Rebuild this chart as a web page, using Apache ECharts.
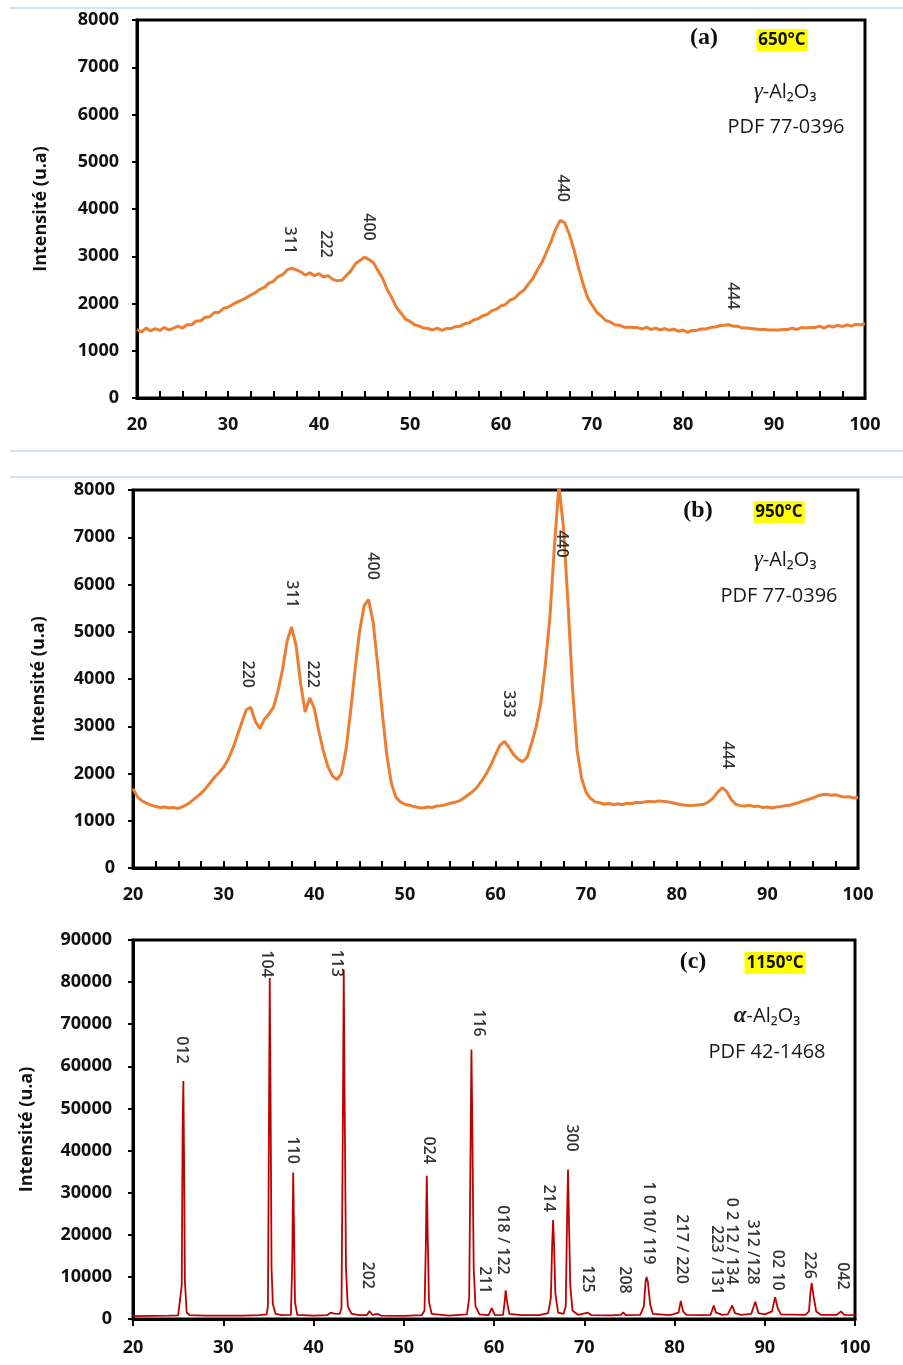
<!DOCTYPE html>
<html><head><meta charset="utf-8">
<script src="https://cdn.jsdelivr.net/npm/echarts@6/dist/echarts.min.js"></script>
<style>html,body{margin:0;padding:0;background:#fff}#c{width:903px;height:1365px}</style>
</head><body><div id="c"></div><script>
// ---------- DATA ----------
const anglesAB = [20,20.5,21,21.5,22,22.5,23,23.5,24,24.5,25,25.5,26,26.5,27,27.5,28,28.5,29,29.5,
30,30.5,31,31.5,32,32.5,33,33.5,34,34.5,35,35.5,36,36.5,37,37.5,38,38.5,39,39.5,
40,40.5,41,41.5,42,42.5,43,43.5,44,44.5,45,45.5,46,46.5,47,47.5,48,48.5,49,49.5,
50,50.5,51,51.5,52,52.5,53,53.5,54,54.5,55,55.5,56,56.5,57,57.5,58,58.5,59,59.5,
60,60.5,61,61.5,62,62.5,63,63.5,64,64.5,65,65.5,66,66.5,67,67.5,68,68.5,69,69.5,
70,70.5,71,71.5,72,72.5,73,73.5,74,74.5,75,75.5,76,76.5,77,77.5,78,78.5,79,79.5,
80,80.5,81,81.5,82,82.5,83,83.5,84,84.5,85,85.5,86,86.5,87,87.5,88,88.5,89,89.5,
90,90.5,91,91.5,92,92.5,93,93.5,94,94.5,95,95.5,96,96.5,97,97.5,98,98.5,99,99.5,100];

// (a) 650°C
const intensA = [1450,1400,1480,1420,1470,1430,1490,1440,1480,1520,1480,1550,1550,1630,1630,1710,1720,1810,1810,1900,
1920,1980,2030,2070,2120,2180,2230,2300,2340,2430,2470,2570,2610,2710,2750,2710,2670,2600,2650,2590,
2630,2560,2590,2510,2480,2490,2590,2690,2840,2910,2980,2930,2860,2690,2530,2290,2120,1920,1800,1670,
1620,1550,1520,1480,1470,1440,1480,1430,1470,1470,1510,1520,1570,1590,1650,1680,1740,1770,1850,1880,
1950,1980,2070,2110,2210,2280,2410,2530,2710,2870,3090,3310,3570,3760,3710,3470,3150,2770,2430,2130,
1970,1820,1740,1640,1610,1550,1540,1500,1500,1490,1490,1460,1500,1450,1480,1440,1470,1430,1460,1410,
1440,1390,1430,1430,1460,1460,1490,1500,1530,1540,1550,1520,1520,1480,1480,1470,1460,1450,1450,1440,
1440,1440,1450,1450,1480,1450,1490,1480,1490,1490,1520,1480,1530,1500,1540,1510,1550,1520,1560,1550,1570];

// (b) 950°C
const intensB = [1680,1500,1420,1370,1330,1300,1280,1290,1270,1280,1260,1300,1350,1420,1500,1580,1680,1800,1920,2020,
2130,2300,2520,2800,3080,3350,3400,3100,2950,3150,3260,3400,3750,4200,4800,5100,4700,3900,3300,3600,
3380,2900,2480,2150,1950,1870,2000,2500,3300,4200,5000,5550,5680,5200,4300,3300,2400,1800,1500,1400,
1350,1330,1300,1280,1270,1290,1280,1310,1320,1340,1370,1390,1420,1480,1550,1620,1720,1850,2000,2180,
2400,2600,2680,2550,2400,2300,2250,2350,2650,3000,3500,4300,5300,6800,8100,7200,5600,3800,2500,1900,
1600,1470,1400,1380,1350,1370,1340,1360,1340,1370,1360,1390,1380,1400,1410,1400,1420,1410,1400,1380,
1360,1340,1330,1320,1330,1340,1350,1400,1480,1600,1700,1620,1450,1350,1320,1310,1330,1300,1310,1280,
1290,1270,1290,1300,1320,1330,1360,1390,1420,1450,1480,1520,1550,1560,1540,1550,1520,1500,1510,1480,1490];

// (c) 1150°C
const anglesC = [20,22,24,25,
25.2,25.4,25.5,25.58,25.65,25.75,25.95,26.3,28,30,32,34,34.8,
34.95,35.05,35.15,35.25,35.35,35.5,35.8,36.5,
37.5,37.65,37.75,37.85,37.95,38.2,40,41.5,41.9,42.3,42.9,
43.1,43.25,43.35,43.45,43.6,43.8,44.2,45,
45.9,46.2,46.5,47.1,47.5,50,52,
52.3,52.45,52.55,52.65,52.8,53.1,55,57,
57.25,57.4,57.5,57.6,57.75,57.95,58.4,59.4,
59.75,60.1,61,61.15,61.3,61.45,61.7,63,65,66,
66.3,66.45,66.55,66.65,66.8,67.1,67.7,
67.95,68.1,68.2,68.3,68.45,68.7,69.3,
70.4,70.8,73,74.1,74.3,74.6,76.2,
76.6,76.8,76.9,77.05,77.3,77.6,79.5,
80.45,80.7,80.95,81.3,83.2,84,
84.35,84.6,85.3,85.9,86.4,86.7,87.4,88.5,
88.95,89.3,90,90.8,91.15,91.45,91.8,94.5,94.9,
95.05,95.2,95.4,95.7,96.2,98,98.45,98.8,100];
const intensC = [700,750,800,850,
1000,8000,45000,56500,40000,9000,1500,900,800,780,820,900,1100,
3000,40000,81000,50000,12000,3500,1200,900,
1000,14000,34800,20000,4000,1000,800,900,1500,1300,1200,
2500,45000,83000,52000,12000,3000,1300,900,
900,1900,1000,1200,800,750,900,
2000,18000,34000,20000,4000,1200,800,1100,
5000,40000,64000,45000,12000,3000,1100,900,
2600,900,1000,3500,6800,4000,1200,900,900,1400,
5000,18000,23500,18000,6000,1500,1200,
3000,24000,35500,24000,8000,2000,1000,
1500,900,850,1000,1600,900,1000,
3000,9000,10000,8800,3500,1200,900,
1500,4300,1800,1000,900,1000,
3200,1500,1000,1100,3200,1400,1000,1200,
4100,1400,1100,1800,5200,2500,1100,1000,1800,
6000,8600,5500,1800,1000,1000,1800,1000,900];

// peak labels (text, 2θ of label centre, intensity of label centre)
const labelsA = ['311','222','400','440','444'];
const labelXA = [36.8,40.7,45.4,66.8,85.4];
const labelYA = [3340,3260,3620,4440,2160];

const labelsB = ['220','311','222','400','333','440','444'];
const labelXB = [32.6,37.5,39.8,46.4,61.4,67.3,85.6];
const labelYB = [4100,5800,4100,6390,3470,6860,2390];

const labelsC = ['012','104','110','113','202','024','116','211','018 / 122','214','300','125','208',
  '1 0 10/ 119','217 / 220','223 / 131','0 2 12 / 134','312 /128','02 10','226','042'];
const labelXC = [25.4,34.8,37.7,42.6,46.0,52.7,58.3,59.0,61.0,66.1,68.6,70.4,74.5,
  77.1,80.8,84.7,86.3,88.6,91.4,95.0,98.6];
const labelYC = [63900,84300,40100,84500,10400,40100,70300,9260,18760,28700,43000,9500,9260,
  22800,16600,14000,18500,15900,11600,12800,10200];

const xTicks = [20,30,40,50,60,70,80,90,100];

// ---------- CHART ----------
const FONT = "'Open Sans', 'Liberation Sans', sans-serif";
const chart = echarts.init(document.getElementById('c'), null, {renderer: 'canvas'});

const grids = [
  {left: 137, top: 20, width: 728, height: 378},
  {left: 133, top: 490, width: 725, height: 378},
  {left: 133, top: 940, width: 722, height: 379}
];

function xAx(i, inside, minor) {
  return {
    type: 'value', gridIndex: i, min: xTicks[0], max: xTicks[xTicks.length-1], interval: 10,
    axisLine: {show: true, lineStyle: {color: '#000', width: 3}},
    axisTick: {show: true, inside: inside, length: 7, lineStyle: {color: '#000', width: 2}},
    minorTick: {show: minor, splitNumber: 4, length: 7, lineStyle: {color: '#000', width: 2}},
    splitLine: {show: false},
    axisLabel: {color: '#111', fontFamily: FONT, fontWeight: 'bold', fontSize: 18, margin: i === 2 ? 20 : 18,
      formatter: v => String(v)}
  };
}
function yAx(i, max, interval, gap, margin) {
  return {
    type: 'value', gridIndex: i, min: 0, max: max, interval: interval,
    name: 'Intensité (u.a)', nameLocation: 'middle', nameRotate: 90, nameGap: gap,
    nameTextStyle: {color: '#111', fontFamily: FONT, fontWeight: 'bold', fontSize: 18},
    axisLine: {show: true, lineStyle: {color: '#000', width: 3}},
    axisTick: {show: true, inside: false, length: 5, lineStyle: {color: '#000', width: 2}},
    splitLine: {show: false},
    axisLabel: {color: '#111', fontFamily: FONT, fontWeight: 'bold', fontSize: 18, margin: margin,
      formatter: v => String(v)}
  };
}

function lineSeries(i, xs, ys, color, w) {
  return {
    type: 'line', xAxisIndex: i, yAxisIndex: i, showSymbol: false, symbol: 'none',
    clip: true, lineStyle: {color: color, width: w}, itemStyle: {color: color},
    data: xs.map((x, k) => [x, ys[k]]), z: 3, silent: true
  };
}
function labelSeries(i, txt, xs, ys) {
  return {
    type: 'scatter', xAxisIndex: i, yAxisIndex: i, symbolSize: 1, silent: true,
    itemStyle: {color: 'rgba(0,0,0,0)'}, z: 5,
    label: {show: true, position: 'inside', rotate: -90, color: '#000', fontFamily: FONT, fontWeight: 600, fontSize: 16,
      textBorderWidth: 0, formatter: p => txt[p.dataIndex]},
    data: xs.map((x, k) => [x, ys[k]])
  };
}

function textG(x, y, text, size) {
  return {type: 'text', x: x, y: y, z: 10,
    style: {text: text, fill: '#1a1a1a', font: size + 'px ' + FONT, textAlign: 'center', textVerticalAlign: 'middle'}};
}
function tagG(x, y, text) {
  return {type: 'text', x: x, y: y, z: 10,
    style: {text: text, fill: '#111', font: 'bold 17px ' + FONT, textAlign: 'center', textVerticalAlign: 'middle',
      backgroundColor: '#ffff00', padding: [3, 2, 2, 2]}};
}
function letterG(x, y, text) {
  return {type: 'text', x: x, y: y, z: 10,
    style: {text: text, fill: '#111', font: 'bold 24px "Liberation Serif", "DejaVu Serif", serif', textAlign: 'center', textVerticalAlign: 'middle'}};
}
function phaseG(x, y, greek, italicBold) {
  return {type: 'text', x: x, y: y, z: 10,
    style: {text: '{g|' + greek + '}{n|-Al₂O₃}', textAlign: 'center', textVerticalAlign: 'middle',
      rich: {
        g: {fontFamily: '"Liberation Serif", "DejaVu Serif", serif', fontStyle: 'italic', fontWeight: italicBold ? 'bold' : 'normal', fontSize: 23, fill: '#1a1a1a', color: '#1a1a1a'},
        n: {fontFamily: FONT, fontSize: 20, fill: '#1a1a1a', color: '#1a1a1a'}
      }}};
}
function hline(y) {
  return {type: 'line', z: 1, shape: {x1: 10, y1: y, x2: 903, y2: y}, style: {stroke: '#c9d7e8', lineWidth: 1.5}};
}

const option = {
  animation: false,
  backgroundColor: '#ffffff',
  grid: grids.map(g => Object.assign({show: true, borderColor: '#000', borderWidth: 3, backgroundColor: 'transparent'}, g)),
  xAxis: [xAx(0, true, true), xAx(1, true, true), xAx(2, false, false)],
  yAxis: [yAx(0, 8000, 1000, 87, 18), yAx(1, 8000, 1000, 85, 18), yAx(2, 90000, 10000, 97, 21)],
  series: [
    lineSeries(0, anglesAB, intensA, '#ED7D31', 3),
    lineSeries(1, anglesAB, intensB, '#ED7D31', 3),
    lineSeries(2, anglesC, intensC, '#C00000', 1.8),
    labelSeries(0, labelsA, labelXA, labelYA),
    labelSeries(1, labelsB, labelXB, labelYB),
    labelSeries(2, labelsC, labelXC, labelYC)
  ],
  graphic: [
    hline(8), hline(451), hline(477),
    letterG(704, 38, '(a)'), tagG(782, 40, '650°C'), phaseG(785, 92, 'γ', false), textG(786, 127, 'PDF 77-0396', 20),
    letterG(698, 511, '(b)'), tagG(779, 512, '950°C'), phaseG(785, 560, 'γ', false), textG(779, 596, 'PDF 77-0396', 20),
    letterG(693, 962, '(c)'), tagG(775, 963, '1150°C'), phaseG(767, 1016, 'α', true), textG(767, 1052, 'PDF 42-1468', 20)
  ]
};
chart.setOption(option);
</script></body></html>
